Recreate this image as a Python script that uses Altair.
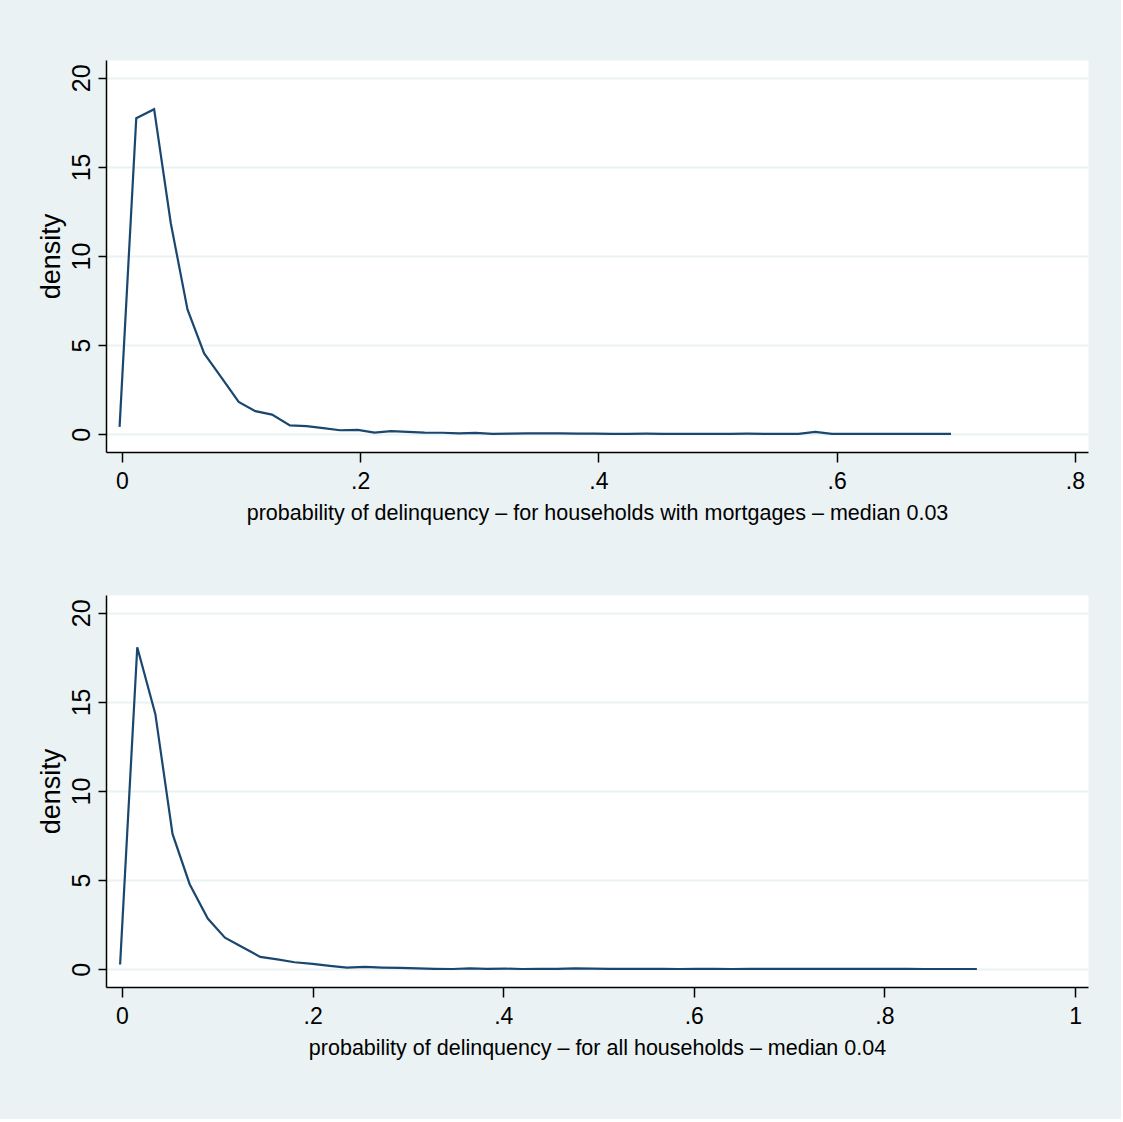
import altair as alt
import pandas as pd

# ---- data ----
x_mort = [-0.002, 0.012, 0.027, 0.041, 0.055, 0.069, 0.084, 0.098, 0.112, 0.126,
          0.141, 0.155, 0.169, 0.183, 0.198, 0.212, 0.226, 0.240, 0.254, 0.269,
          0.283, 0.297, 0.311, 0.326, 0.340, 0.354, 0.368, 0.383, 0.397, 0.411,
          0.425, 0.440, 0.454, 0.468, 0.482, 0.497, 0.511, 0.525, 0.539, 0.554,
          0.568, 0.582, 0.596, 0.611, 0.625, 0.639, 0.653, 0.668, 0.682, 0.696]
d_mort = [0.41, 17.73, 18.24, 11.84, 7.00, 4.53, 3.13, 1.81, 1.29, 1.10,
          0.49, 0.45, 0.34, 0.22, 0.24, 0.09, 0.17, 0.13, 0.09, 0.08,
          0.04, 0.07, 0.02, 0.03, 0.04, 0.04, 0.05, 0.03, 0.03, 0.02,
          0.02, 0.03, 0.02, 0.02, 0.02, 0.02, 0.02, 0.03, 0.02, 0.02,
          0.02, 0.13, 0.02, 0.02, 0.02, 0.02, 0.02, 0.02, 0.02, 0.02]

x_all = [-0.002, 0.016, 0.035, 0.053, 0.071, 0.090, 0.108, 0.126, 0.145, 0.163,
         0.181, 0.200, 0.218, 0.236, 0.255, 0.273, 0.292, 0.310, 0.328, 0.347,
         0.365, 0.383, 0.402, 0.420, 0.438, 0.457, 0.475, 0.493, 0.512, 0.530,
         0.548, 0.567, 0.585, 0.603, 0.622, 0.640, 0.659, 0.677, 0.695, 0.714,
         0.732, 0.750, 0.769, 0.787, 0.805, 0.824, 0.842, 0.860, 0.879, 0.897]
d_all = [0.26, 18.07, 14.31, 7.59, 4.77, 2.84, 1.77, 1.24, 0.69, 0.55,
         0.39, 0.30, 0.19, 0.09, 0.13, 0.09, 0.07, 0.05, 0.02, 0.01,
         0.05, 0.02, 0.03, 0.01, 0.02, 0.02, 0.04, 0.03, 0.02, 0.02,
         0.02, 0.02, 0.01, 0.02, 0.02, 0.01, 0.02, 0.02, 0.02, 0.02,
         0.02, 0.02, 0.02, 0.02, 0.02, 0.02, 0.01, 0.01, 0.01, 0.01]

title_mort = "probability of delinquency \u2013 for households with mortgages \u2013 median 0.03"
title_all = "probability of delinquency \u2013 for all households \u2013 median 0.04"
x_ticks_mort = [0, 0.2, 0.4, 0.6, 0.8]
x_ticks_all = [0, 0.2, 0.4, 0.6, 0.8, 1.0]
y_ticks = [0, 5, 10, 15, 20]

BG = "#EAF2F3"
LINE = "#1a476f"
FONT = "Liberation Sans, Arial, sans-serif"
LABEL_EXPR = "datum.value == 0 ? '0' : (datum.value == 1 ? '1' : '.' + format(datum.value * 10, '.0f'))"


def panel(xs, ys, title, xdom, xticks):
    df = pd.DataFrame({"x": xs, "density": ys})
    return alt.Chart(df).mark_line(color=LINE, strokeWidth=2.2, clip=True).encode(
        x=alt.X("x:Q",
                scale=alt.Scale(domain=xdom, nice=False, zero=False),
                axis=alt.Axis(values=xticks, title=title, grid=False, labelExpr=LABEL_EXPR,
                              tickSize=10, labelPadding=8, titlePadding=9,
                              labelFont=FONT, labelFontSize=23,
                              titleFont=FONT, titleFontSize=21.5, titleFontWeight="normal",
                              domainColor="#000000", tickColor="#000000",
                              labelColor="#000000", titleColor="#000000",
                              domainWidth=1.5, tickWidth=1.5)),
        y=alt.Y("density:Q",
                scale=alt.Scale(domain=[-1.0, 21.0], nice=False, zero=False),
                axis=alt.Axis(values=y_ticks, title="density", grid=True,
                              gridColor=BG, gridWidth=2,
                              labelAngle=270, labelAlign="center", labelBaseline="bottom",
                              tickSize=8, labelPadding=4, titlePadding=4,
                              labelFont=FONT, labelFontSize=25,
                              titleFont=FONT, titleFontSize=27, titleFontWeight="normal",
                              domainColor="#000000", tickColor="#000000",
                              labelColor="#000000", titleColor="#000000",
                              domainWidth=1.5, tickWidth=1.5)),
    ).properties(width=982, height=392)


top = panel(x_mort, d_mort, title_mort, [-0.0134, 0.811], x_ticks_mort)
bottom = panel(x_all, d_all, title_all, [-0.0168, 1.0136], x_ticks_all)

chart = alt.vconcat(top, bottom, spacing=70).properties(
    background=BG,
    padding={"left": 36, "top": 59, "right": 32, "bottom": 60},
).configure_view(stroke="transparent", fill="white")

chart.save("out.html", embed_options={"renderer": "svg", "actions": False})
